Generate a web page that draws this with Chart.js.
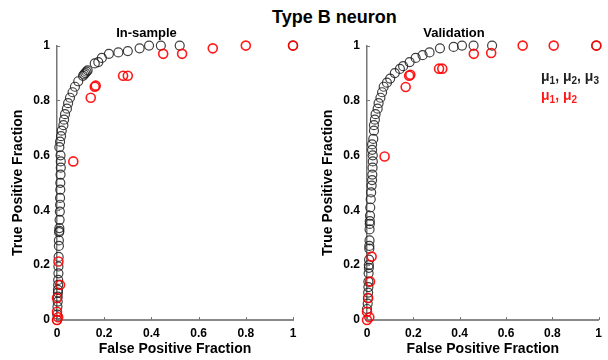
<!DOCTYPE html>
<html>
<head>
<meta charset="utf-8">
<script src="https://cdn.jsdelivr.net/npm/chart.js@4.4.1/dist/chart.umd.min.js"></script>
<style>
  body { margin: 0; background: #fff; }
  #wrap { position: relative; width: 608px; height: 360px; overflow: hidden; font-family: Arial, "Liberation Sans", sans-serif; }
  #titulo { position: absolute; left: 272px; top: 7px; font-size: 18px; font-weight: bold; color: #000; white-space: nowrap; }
  .panel { position: absolute; top: 0; width: 304px; height: 360px; }
</style>
</head>
<body>
<div id="wrap">
  <div id="titulo">Type B neuron</div>
  <div class="panel" style="left:0"><canvas id="izq" width="304" height="360"></canvas></div>
  <div class="panel" style="left:304px"><canvas id="der" width="304" height="360"></canvas></div>
</div>
<script>
// Valores de ejes
const tickVals = [0, 0.2, 0.4, 0.6, 0.8, 1];
const tickLabels = ['0', '0.2', '0.4', '0.6', '0.8', '1'];

// In-sample: mu1, mu2, mu3 (negro)
const inNegroX = [1, 0.52, 0.44, 0.39, 0.35, 0.30, 0.26, 0.22, 0.19, 0.175, 0.16, 0.13, 0.125, 0.12, 0.115, 0.11, 0.09, 0.076, 0.066, 0.055, 0.047, 0.042, 0.034, 0.03, 0.027, 0.02, 0.017, 0.013, 0.01,
  0.015, 0.016, 0.016, 0.015, 0.014, 0.014, 0.013, 0.013, 0.012, 0.011, 0.01, 0.01, 0.009, 0.008, 0.008, 0.007, 0.006, 0.006, 0.005, 0.005, 0.004, 0.004, 0.003, 0.003, 0.002, 0.001, 0];
const inNegroY = [1, 1, 1, 1, 0.99, 0.98, 0.975, 0.97, 0.955, 0.94, 0.935, 0.91, 0.905, 0.9, 0.895, 0.89, 0.87, 0.85, 0.83, 0.81, 0.79, 0.77, 0.75, 0.73, 0.71, 0.69, 0.67, 0.65, 0.63,
  0.60, 0.578, 0.555, 0.53, 0.50, 0.475, 0.445, 0.42, 0.395, 0.365, 0.335, 0.325, 0.32, 0.29, 0.27, 0.23, 0.195, 0.17, 0.146, 0.128, 0.11, 0.1, 0.085, 0.067, 0.049, 0.02, 0];
// In-sample: mu1, mu2 (rojo)
const inRojoX = [1, 0.80, 0.66, 0.53, 0.45, 0.28, 0.30, 0.164, 0.16, 0.143, 0.069, 0.006, 0.013, 0, 0, 0.005, 0];
const inRojoY = [1, 1, 0.99, 0.97, 0.97, 0.89, 0.89, 0.854, 0.85, 0.81, 0.578, 0.213, 0.128, 0.08, 0.03, 0.01, 0];

// Validation: mu1, mu2, mu3 (negro)
const valNegroX = [0.99, 0.54, 0.46, 0.41, 0.374, 0.315, 0.27, 0.24, 0.21, 0.184, 0.156, 0.142, 0.12, 0.10, 0.086, 0.072, 0.065, 0.058, 0.05, 0.046, 0.037, 0.034, 0.03, 0.03, 0.027, 0.022, 0.022,
  0.025, 0.025, 0.024, 0.023, 0.022, 0.02, 0.018, 0.016, 0.014, 0.013, 0.012, 0.012, 0.011, 0.011, 0.01, 0.01, 0.009, 0.008, 0.008, 0.007, 0.006, 0.006, 0.005, 0.004, 0.003, 0];
const valNegroY = [1, 1, 1, 1, 0.995, 0.99, 0.975, 0.965, 0.955, 0.94, 0.925, 0.915, 0.9, 0.88, 0.865, 0.85, 0.83, 0.81, 0.79, 0.77, 0.75, 0.73, 0.71, 0.69, 0.66, 0.64, 0.62,
  0.60, 0.578, 0.555, 0.53, 0.51, 0.49, 0.465, 0.44, 0.41, 0.38, 0.36, 0.35, 0.33, 0.29, 0.27, 0.26, 0.22, 0.2, 0.19, 0.17, 0.14, 0.12, 0.1, 0.08, 0.06, 0.04, 0.02, 0];
// Validation: mu1, mu2 (rojo)
const valRojoX = [0.99, 0.806, 0.672, 0.536, 0.461, 0.311, 0.325, 0.187, 0.182, 0.167, 0.076, 0.02, 0.013, 0.005, 0, 0.01, 0];
const valRojoY = [1, 1, 1, 0.973, 0.97, 0.916, 0.916, 0.894, 0.89, 0.849, 0.596, 0.231, 0.14, 0.08, 0.03, 0.01, 0];

// Leyenda
const leyendaNegro = [['\u03bc', '1'], ['\u03bc', '2'], ['\u03bc', '3']];
const leyendaRojo = [['\u03bc', '1'], ['\u03bc', '2']];

const fuente = 'Arial, "Liberation Sans", sans-serif';

function puntos(xs, ys) {
  return xs.map((x, i) => ({ x: x, y: ys[i] }));
}

// Ticks hacia adentro
const ticksAdentro = {
  id: 'ticksAdentro',
  afterDraw(chart) {
    const ctx = chart.ctx;
    const { left, bottom } = chart.chartArea;
    ctx.save();
    ctx.strokeStyle = '#777';
    ctx.lineWidth = 1;
    tickVals.forEach(v => {
      const px = Math.round(chart.scales.x.getPixelForValue(v)) + 0.5;
      ctx.beginPath();
      ctx.moveTo(px, bottom);
      ctx.lineTo(px, bottom - 3);
      ctx.stroke();
      const py = Math.round(chart.scales.y.getPixelForValue(v)) + 0.5;
      ctx.beginPath();
      ctx.moveTo(left, py);
      ctx.lineTo(left + 3, py);
      ctx.stroke();
    });
    ctx.restore();
  }
};

function dibujarMu(ctx, partes, x, y, color) {
  ctx.fillStyle = color;
  partes.forEach((p, i) => {
    ctx.font = 'bold 14px ' + fuente;
    ctx.fillText(p[0], x, y);
    x += ctx.measureText(p[0]).width;
    ctx.font = 'bold 10px ' + fuente;
    ctx.fillText(p[1], x, y + 3);
    x += ctx.measureText(p[1]).width;
    if (i < partes.length - 1) {
      ctx.font = 'bold 14px ' + fuente;
      ctx.fillText(', ', x, y);
      x += ctx.measureText(', ').width;
    }
  });
}

const leyenda = {
  id: 'leyenda',
  afterDraw(chart) {
    if (!chart.options.plugins.leyenda.mostrar) return;
    const ctx = chart.ctx;
    ctx.save();
    ctx.textBaseline = 'alphabetic';
    dibujarMu(ctx, leyendaNegro, 237, 81, '#222');
    dibujarMu(ctx, leyendaRojo, 237, 100, '#ff1a1a');
    ctx.restore();
  }
};

function crearGrafico(id, negroX, negroY, rojoX, rojoY, titulo, anchoY, padDer, mostrarLeyenda, padTituloY) {
  const ctx = document.getElementById(id).getContext('2d');
  return new Chart(ctx, {
    type: 'scatter',
    data: {
      datasets: [{
        label: '\u03bc1, \u03bc2',
        data: puntos(rojoX, rojoY),
        borderColor: 'rgba(255,0,0,0.9)',
        backgroundColor: 'rgba(0,0,0,0)',
        borderWidth: 1.6,
        pointRadius: 4.5,
        clip: false
      }, {
        label: '\u03bc1, \u03bc2, \u03bc3',
        data: puntos(negroX, negroY),
        borderColor: 'rgba(30,30,30,0.85)',
        backgroundColor: 'rgba(0,0,0,0)',
        borderWidth: 1.2,
        pointRadius: 4.5,
        clip: false
      }]
    },
    options: {
      responsive: false,
      animation: false,
      layout: { padding: { left: 0, right: padDer, top: 0, bottom: 0 } },
      plugins: {
        legend: { display: false },
        tooltip: { enabled: false },
        title: {
          display: true,
          text: titulo,
          color: '#000',
          font: { family: fuente, size: 13, weight: 'bold' },
          padding: { top: 26, bottom: 4 }
        },
        leyenda: { mostrar: mostrarLeyenda }
      },
      scales: {
        x: {
          type: 'linear',
          min: 0,
          max: 1,
          afterFit: s => { s.height = 40; },
          afterBuildTicks: s => { s.ticks = tickVals.map(v => ({ value: v })); },
          grid: { display: false, drawTicks: false },
          border: { display: true, color: '#888', width: 2 },
          ticks: {
            color: '#000',
            padding: 6,
            maxRotation: 0,
            font: { family: fuente, size: 12, weight: 'bold' },
            callback: v => tickLabels[tickVals.indexOf(v)]
          },
          title: {
            display: true,
            text: 'False Positive Fraction',
            color: '#000',
            font: { family: fuente, size: 14, weight: 'bold' },
            padding: { top: 0, bottom: 2 }
          }
        },
        y: {
          type: 'linear',
          min: 0,
          max: 1,
          afterFit: s => { s.width = anchoY; },
          afterBuildTicks: s => { s.ticks = tickVals.map(v => ({ value: v })); },
          grid: { display: false, drawTicks: false },
          border: { display: true, color: '#777', width: 1.5 },
          ticks: {
            color: '#000',
            padding: 7,
            font: { family: fuente, size: 12, weight: 'bold' },
            callback: v => tickLabels[tickVals.indexOf(v)]
          },
          title: {
            display: true,
            text: 'True Positive Fraction',
            color: '#000',
            font: { family: fuente, size: 14, weight: 'bold' },
            padding: { top: padTituloY, bottom: 0 }
          }
        }
      }
    },
    plugins: [ticksAdentro, leyenda]
  });
}

crearGrafico('izq', inNegroX, inNegroY, inRojoX, inRojoY, 'In-sample', 57, 11, false, 10);
crearGrafico('der', valNegroX, valNegroY, valRojoX, valRojoY, 'Validation', 63, 4, true, 16);
</script>
</body>
</html>
